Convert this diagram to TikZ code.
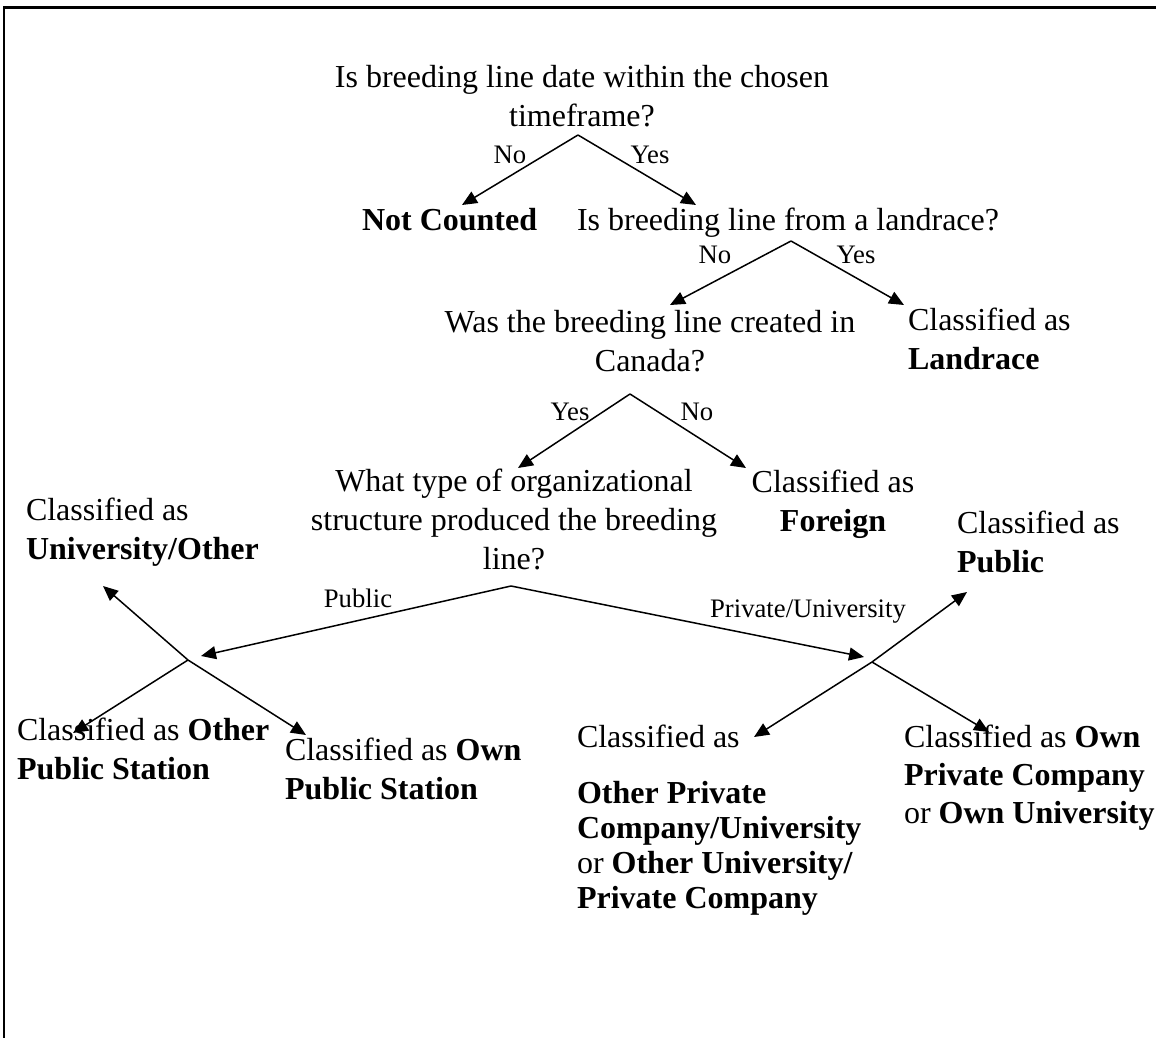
\documentclass[tikz,border=0pt]{standalone}
\usepackage{fontspec}
\setmainfont{Liberation Serif}
\usetikzlibrary{arrows.meta}
\begin{document}
\begin{tikzpicture}[x=1pt,y=-1pt,
  txt/.style={font=\fontsize{32}{39}\selectfont, inner sep=0pt, outer sep=0pt},
  ctxt/.style={txt, align=center},
  ltxt/.style={txt, align=left},
  lab/.style={font=\fontsize{26.7}{30}\selectfont, inner sep=0pt},
  arr/.style={-{Triangle[length=15pt,width=13pt]}, line width=1.5pt},
  frame/.style={line width=2.5pt, line join=miter}]
\useasboundingbox (0,0) rectangle (1156,1038);
% frame (top and left edges only)
\coordinate (fbl) at (4,1040);
\coordinate (ftl) at (4,7.5);
\coordinate (ftr) at (1158,7.5);
\draw[frame] (fbl) -- (ftl) -- (ftr);

% question and result nodes
\node[ctxt, anchor=north] (q1) at (582,65) {Is breeding line date within the chosen\\timeframe?};
\node[txt, anchor=base west] (notc) at (362,230) {\textbf{Not Counted}};
\node[txt, anchor=base west] (q2) at (577,230) {Is breeding line from a landrace?};
\node[ltxt, anchor=north west] (land) at (908,308) {Classified as\\\textbf{Landrace}};
\node[ctxt, anchor=north] (q3) at (650,310) {Was the breeding line created in\\Canada?};
\node[ctxt, anchor=north] (foreign) at (833,470) {Classified as\\\textbf{Foreign}};
\node[ctxt, anchor=north] (q4) at (514,469) {What type of organizational\\structure produced the breeding\\line?};
\node[ltxt, anchor=north west] (univ) at (26,498) {Classified as\\\textbf{University/Other}};
\node[ltxt, anchor=north west] (pub) at (957,511) {Classified as\\\textbf{Public}};
\node[ltxt, anchor=north west] (otherpub) at (17,718) {Classified as \textbf{Other}\\\textbf{Public Station}};
\node[ltxt, anchor=north west] (ownpub) at (285,738) {Classified as \textbf{Own}\\\textbf{Public Station}};
\node[ltxt, anchor=north west, font=\fontsize{32}{35}\selectfont] (otherpriv) at (577,725)
  {Classified as\\[21pt]\textbf{Other Private}\\\textbf{Company/University}\\or \textbf{Other University/}\\\textbf{Private Company}};
\node[ltxt, anchor=north west, font=\fontsize{32}{38}\selectfont] (ownpriv) at (904,725)
  {Classified as \textbf{Own}\\\textbf{Private Company}\\or \textbf{Own University}};

% branch points and arrow ends
\coordinate (a1) at (578,135);
\coordinate (t1l) at (462,205);
\coordinate (t1r) at (696,205);
\coordinate (a2) at (791,241);
\coordinate (t2l) at (670,305);
\coordinate (t2r) at (904,305);
\coordinate (a3) at (630,394);
\coordinate (t3l) at (518,468);
\coordinate (t3r) at (746,468);
\coordinate (a4) at (511,586);
\coordinate (tpub) at (201,656);
\coordinate (tpriv) at (864,657);
\coordinate (j1) at (188,660);
\coordinate (j1ul) at (103,586);
\coordinate (j1dl) at (73,733);
\coordinate (j1dr) at (306,735);
\coordinate (j2) at (872,662);
\coordinate (j2ur) at (967,592);
\coordinate (j2dl) at (754,737);
\coordinate (j2dr) at (989,732);

\draw[arr] (a1) -- (t1l);
\draw[arr] (a1) -- (t1r);
\draw[arr] (a2) -- (t2l);
\draw[arr] (a2) -- (t2r);
\draw[arr] (a3) -- (t3l);
\draw[arr] (a3) -- (t3r);
\draw[arr] (a4) -- (tpub);
\draw[arr] (a4) -- (tpriv);
\draw[arr] (j1) -- (j1ul);
\draw[arr] (j1) -- (j1dl);
\draw[arr] (j1) -- (j1dr);
\draw[arr] (j2) -- (j2ur);
\draw[arr] (j2) -- (j2dl);
\draw[arr] (j2) -- (j2dr);

% branch labels
\node[lab] (no1) at (510,155) {No};
\node[lab] (yes1) at (650,155) {Yes};
\node[lab] (no2) at (715,255) {No};
\node[lab] (yes2) at (856,255) {Yes};
\node[lab] (yes3) at (570,412) {Yes};
\node[lab] (no3) at (697,412) {No};
\node[lab] (lpub) at (358,598) {Public};
\node[lab] (lpriv) at (808,612) {Private/University};
\end{tikzpicture}
\end{document}
